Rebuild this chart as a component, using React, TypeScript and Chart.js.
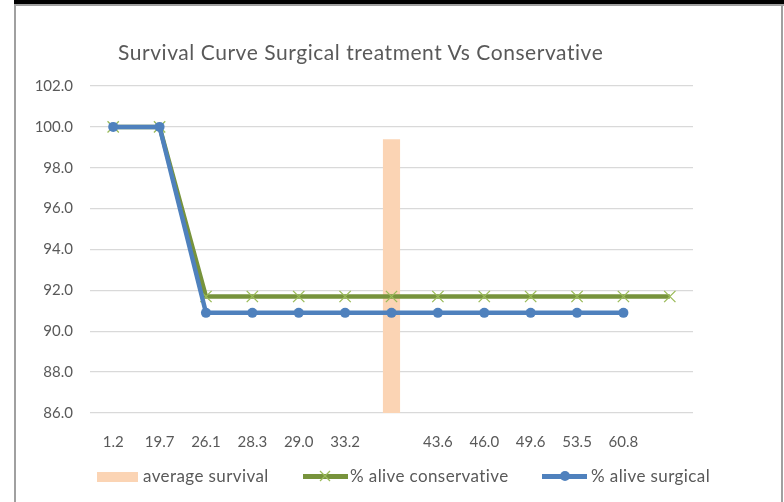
import React, { useEffect, useRef } from "react";
import { Chart, registerables } from "chart.js";

Chart.register(...registerables);

const categories = ["1.2", "19.7", "26.1", "28.3", "29.0", "33.2", "", "43.6", "46.0", "49.6", "53.5", "60.8", ""];
const averageSurvival = [null, null, null, null, null, null, 99.4, null, null, null, null, null, null];
const aliveConservative = [100, 100, 91.7, 91.7, 91.7, 91.7, 91.7, 91.7, 91.7, 91.7, 91.7, 91.7, 91.7];
const aliveSurgical = [100, 100, 90.9, 90.9, 90.9, 90.9, 90.9, 90.9, 90.9, 90.9, 90.9, 90.9, null];
const yMin = 86;
const yMax = 102;
const yStep = 2;

const FONT = "Lato, 'Open Sans', sans-serif";
const GRAY = "#595959";
const BLUE = "#4F81BD";
const GREEN = "#77933C";
const GREEN_MARK = "#9BBB59";
const PEACH = "#FBD4B4";

export default function App() {
  const ref = useRef<HTMLCanvasElement>(null);
  useEffect(() => {
    if (!ref.current) return;
    const chart = new Chart(ref.current, {
      type: "bar",
      data: {
        labels: categories,
        datasets: [
          {
            type: "line",
            label: "% alive surgical",
            data: aliveSurgical,
            borderColor: BLUE,
            backgroundColor: BLUE,
            borderWidth: 4.5,
            pointStyle: "circle",
            pointRadius: 5,
            pointBackgroundColor: BLUE,
            pointBorderColor: BLUE,
            pointBorderWidth: 0,
            order: 0,
          } as any,
          {
            type: "line",
            label: "% alive conservative",
            data: aliveConservative,
            borderColor: GREEN,
            backgroundColor: GREEN,
            borderWidth: 4.5,
            pointStyle: "crossRot",
            pointRadius: 8,
            pointBorderColor: GREEN_MARK,
            pointBorderWidth: 1.3,
            order: 1,
          } as any,
          {
            type: "bar",
            label: "average survival",
            data: averageSurvival,
            backgroundColor: PEACH,
            borderWidth: 0,
            categoryPercentage: 1,
            barPercentage: 0.37,
            order: 2,
          } as any,
        ],
      },
      options: {
        animation: false,
        responsive: false,
        maintainAspectRatio: false,
        layout: { padding: { left: 0, right: 91, top: 86, bottom: 49 } },
        plugins: {
          legend: { display: false },
          title: { display: false },
          tooltip: { enabled: false },
        },
        scales: {
          x: {
            grid: { display: false, drawTicks: false },
            border: { display: false },
            ticks: { color: GRAY, font: { family: FONT, size: 15 }, padding: 20, maxRotation: 0, autoSkip: false },
            afterFit: (s: any) => { s.height = 40; },
          },
          y: {
            min: yMin,
            max: yMax,
            grid: { color: "#D9D9D9", lineWidth: 1.3, drawTicks: false },
            border: { display: false },
            ticks: {
              stepSize: yStep,
              color: GRAY,
              font: { family: FONT, size: 15 },
              padding: 17,
              callback: (v: any) => Number(v).toFixed(1),
            },
            afterFit: (s: any) => { s.width = 90; },
          },
        },
      },
    });
    return () => chart.destroy();
  }, []);

  const legendText = (left: number, text: string) => (
    <div style={{ position: "absolute", left, top: 465, height: 22, lineHeight: "22px", fontFamily: FONT, fontSize: 17, color: GRAY, whiteSpace: "nowrap", letterSpacing: 0.4 }}>{text}</div>
  );

  return (
    <div style={{ position: "absolute", left: 0, top: 0, width: 784, height: 502, background: "#fff", overflow: "hidden" }}>
      <div style={{ position: "absolute", left: 14, top: 0, width: 770, height: 4, background: "#000" }} />
      <div style={{ position: "absolute", left: 14, top: 4, width: 770, height: 2, background: "#A0A0A0" }} />
      <div style={{ position: "absolute", left: 14, top: 4, width: 2, height: 498, background: "#A0A0A0" }} />
      <div style={{ position: "absolute", left: 781, top: 4, width: 2, height: 498, background: "#A0A0A0" }} />
      <canvas ref={ref} width={784} height={502} style={{ position: "absolute", left: 0, top: 0 }} />
      <div style={{ position: "absolute", left: 118, top: 39, fontFamily: FONT, fontSize: 21, color: GRAY, whiteSpace: "nowrap", letterSpacing: 0.55 }}>
        Survival Curve Surgical treatment Vs Conservative
      </div>
      <div style={{ position: "absolute", left: 97, top: 472, width: 41, height: 10, background: PEACH }} />
      {legendText(143, "average survival")}
      <div style={{ position: "absolute", left: 303, top: 474, width: 45, height: 4.5, background: GREEN }} />
      <svg style={{ position: "absolute", left: 318, top: 469 }} width={14} height={14}>
        <line x1={2} y1={2} x2={12} y2={12} stroke={GREEN_MARK} strokeWidth={1.2} />
        <line x1={12} y1={2} x2={2} y2={12} stroke={GREEN_MARK} strokeWidth={1.2} />
      </svg>
      {legendText(350, "% alive conservative")}
      <div style={{ position: "absolute", left: 542, top: 474, width: 45, height: 4.5, background: BLUE }} />
      <div style={{ position: "absolute", left: 560, top: 471, width: 10, height: 10, borderRadius: 5, background: BLUE }} />
      {legendText(591, "% alive surgical")}
    </div>
  );
}
